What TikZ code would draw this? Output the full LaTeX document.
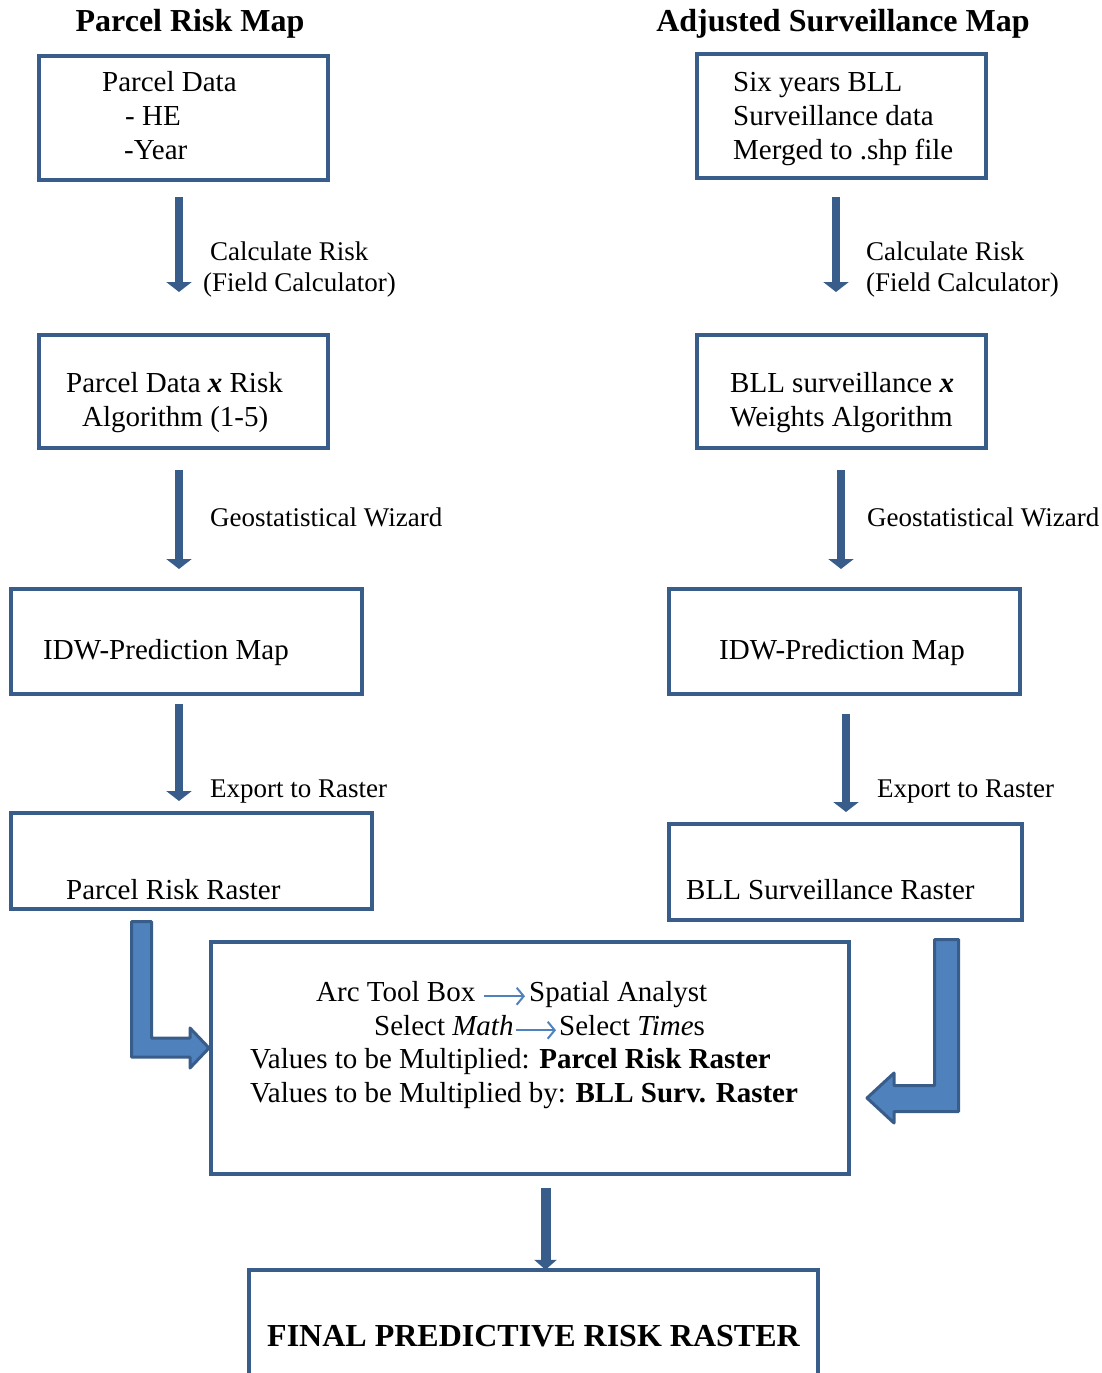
\documentclass[tikz,border=0pt]{standalone}
\usepackage{fontspec}
\setmainfont{Liberation Serif}
\usetikzlibrary{arrows.meta}
\definecolor{boxblue}{RGB}{56,93,138}
\definecolor{fillblue}{RGB}{79,129,189}
\definecolor{thinblue}{RGB}{79,129,189}
\tikzset{
  box/.style={draw=boxblue, line width=4pt, rectangle, inner sep=0pt},
  txt/.style={inner sep=0pt, anchor=base west, font=\fontsize{29}{34}\selectfont},
  lbl/.style={inner sep=0pt, anchor=base west, font=\fontsize{27}{32}\selectfont},
  ttl/.style={inner sep=0pt, anchor=base, font=\fontsize{32}{38}\selectfont\bfseries},
  flowarrow/.style={draw=boxblue, line width=8pt, -{Triangle[length=10pt,width=25pt]}},
  smallarrow/.style={draw=thinblue, line width=2pt, -{Straight Barb[length=7pt,width=17pt]}},
  blockarrow/.style={fill=fillblue, draw=boxblue, line width=3pt, line join=round},
}
\begin{document}
\begin{tikzpicture}[x=1pt,y=-1pt]
\useasboundingbox (0,0) rectangle (1101,1373);

% titles
\node[ttl] (t1) at (190,31.5) {Parcel Risk Map};
\node[ttl] (t2) at (843,31.5) {Adjusted Surveillance Map};

% boxes (centre line)
\node[box, minimum width=289pt, minimum height=124pt] (L1) at (183.5,118) {};
\node[box, minimum width=289pt, minimum height=124pt] (R1) at (841.5,116) {};
\node[box, minimum width=289pt, minimum height=113pt] (L2) at (183.5,391.5) {};
\node[box, minimum width=289pt, minimum height=113pt] (R2) at (841.5,391.5) {};
\node[box, minimum width=351pt, minimum height=105pt] (L3) at (186.5,641.5) {};
\node[box, minimum width=351pt, minimum height=105pt] (R3) at (844.5,641.5) {};
\node[box, minimum width=361pt, minimum height=96pt] (L4) at (191.5,861) {};
\node[box, minimum width=353pt, minimum height=96pt] (R4) at (845.5,872) {};
\node[box, minimum width=638pt, minimum height=232pt] (C) at (530,1058) {};
\node[inner sep=0pt, minimum width=569pt, minimum height=103pt] (F) at (533.5,1321.5) {};
\draw[draw=boxblue, line width=4pt] (F.south west) -- (F.north west) -- (F.north east) -- (F.south east);

% box texts
\node[txt] (l1a) at (102,91.5) {Parcel Data};
\node[txt] (l1b) at (125,125.5) {- HE};
\node[txt] (l1c) at (124,159.5) {-Year};
\node[txt] (r1a) at (733,91.5) {Six years BLL};
\node[txt] (r1b) at (733,125.5) {Surveillance data};
\node[txt] (r1c) at (733,159.5) {Merged to .shp file};

\node[txt] (l2a) at (66,392.5) {Parcel Data \textbf{\textit{x}} Risk};
\node[txt] (l2b) at (82,426.5) {Algorithm (1-5)};
\node[txt] (r2a) at (730,392.5) {BLL surveillance \textbf{\textit{x}}};
\node[txt] (r2b) at (730,426.5) {Weights Algorithm};

\node[txt] (l3) at (43,659.5) {IDW-Prediction Map};
\node[txt] (r3) at (719,659.5) {IDW-Prediction Map};

\node[txt] (l4) at (66,899.5) {Parcel Risk Raster};
\node[txt] (r4) at (686,899.5) {BLL Surveillance Raster};

\node[txt] (c1a) at (316,1001.5) {Arc Tool Box};
\node[txt] (c1b) at (529,1001.5) {Spatial Analyst};
\node[txt] (c2a) at (374,1035.5) {Select \textit{Math}};
\node[txt] (c2b) at (559,1035.5) {Select \textit{Time}s};
\node[txt] (c3) at (250,1068.5) {Values to be Multiplied: \textbf{Parcel Risk Raster}};
\node[txt] (c4) at (250,1102.5) {Values to be Multiplied by: \textbf{BLL Surv. Raster}};
\draw[smallarrow] ([xshift=9pt,yshift=3pt]c1a.mid east) -- ([xshift=-4pt,yshift=3pt]c1b.mid west);
\draw[smallarrow] ([xshift=2pt,yshift=3pt]c2a.mid east) -- ([xshift=-3pt,yshift=3pt]c2b.mid west);

\node[inner sep=0pt, anchor=base, font=\fontsize{32}{38}\selectfont\bfseries] (ft) at (533.5,1346) {FINAL PREDICTIVE RISK RASTER};

% labels
\node[lbl] (a1a) at (210,260) {Calculate Risk};
\node[lbl] (a1b) at (203,291) {(Field Calculator)};
\node[lbl] (b1a) at (866,260) {Calculate Risk};
\node[lbl] (b1b) at (866,291) {(Field Calculator)};
\node[lbl] (a2) at (210,526) {Geostatistical Wizard};
\node[lbl] (b2) at (867,526) {Geostatistical Wizard};
\node[lbl] (a3) at (210,797) {Export to Raster};
\node[lbl] (b3) at (877,797) {Export to Raster};

% flow arrows
\draw[flowarrow] ([xshift=-4.5pt,yshift=-15pt]L1.south) -- ([xshift=-4.5pt,yshift=41pt]L2.north);
\draw[flowarrow] ([xshift=-5.5pt,yshift=-17pt]R1.south) -- ([xshift=-5.5pt,yshift=41pt]R2.north);
\draw[flowarrow] ([xshift=-4.5pt,yshift=-20pt]L2.south) -- ([xshift=-7.5pt,yshift=18pt]L3.north);
\draw[flowarrow] ([xshift=-0.5pt,yshift=-20pt]R2.south) -- ([xshift=-3.5pt,yshift=18pt]R3.north);
\draw[flowarrow] ([xshift=-7.5pt,yshift=-8pt]L3.south) -- ([xshift=-12.5pt,yshift=10pt]L4.north);
\draw[flowarrow] ([xshift=1.5pt,yshift=-18pt]R3.south) -- ([xshift=0.5pt,yshift=10pt]R4.north);
\draw[draw=boxblue, line width=10pt, -{Triangle[length=10pt,width=22pt]}] ([xshift=15.5pt,yshift=-12pt]C.south) -- ([xshift=12pt,yshift=0pt]F.north);

% block arrows
\draw[blockarrow] (131.5,921.5) -- (151.5,921.5) -- (151.5,1038) -- (190,1038) -- (190,1028) -- (C.west |- 0,1048) -- (190,1068) -- (190,1057) -- (131.5,1057) -- cycle;
\draw[blockarrow] (934.5,939.5) -- (958.5,939.5) -- (958.5,1111.5) -- (894,1111.5) -- (894,1123) -- (867,1098) -- (894,1073) -- (894,1085.5) -- (934.5,1085.5) -- cycle;
\end{tikzpicture}
\end{document}
